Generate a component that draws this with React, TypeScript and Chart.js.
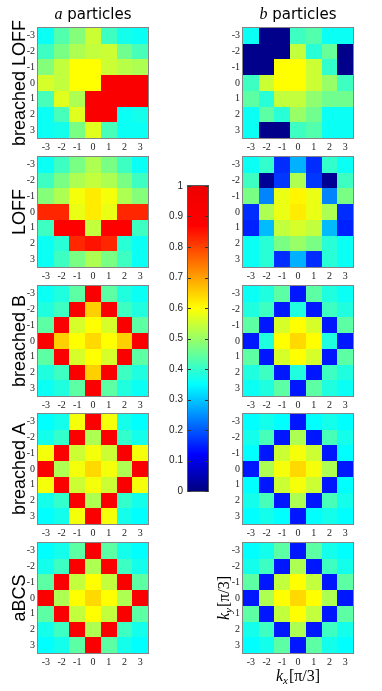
import React, { useEffect, useRef } from 'react';
import { Chart, registerables } from 'chart.js';
Chart.register(...registerables);

// ---- data ----
const KX = [-3, -2, -1, 0, 1, 2, 3];
const KY = [-3, -2, -1, 0, 1, 2, 3];
const COLORBAR_TICKS = [0, 0.1, 0.2, 0.3, 0.4, 0.5, 0.6, 0.7, 0.8, 0.9, 1];
const ROW_LABELS = ['breached LOFF', 'LOFF', 'breached B', 'breached A', 'aBCS'];
const COLUMN_TITLES = ['a', 'b'];

// rows: k_y = -3 (top) ... 3 (bottom); columns: k_x = -3 ... 3
const A_BREACHED_LOFF = [
  [0.36, 0.43, 0.48, 0.55, 0.41, 0.37, 0.36],
  [0.41, 0.47, 0.52, 0.54, 0.55, 0.46, 0.42],
  [0.48, 0.54, 0.60, 0.60, 0.55, 0.53, 0.52],
  [0.56, 0.54, 0.60, 0.60, 0.90, 0.90, 0.90],
  [0.42, 0.57, 0.52, 0.90, 0.90, 0.90, 0.90],
  [0.36, 0.42, 0.57, 0.90, 0.90, 0.36, 0.37],
  [0.36, 0.37, 0.47, 0.57, 0.42, 0.36, 0.36],
];
const B_BREACHED_LOFF = [
  [0.36, 0.01, 0.01, 0.41, 0.43, 0.36, 0.36],
  [0.01, 0.01, 0.01, 0.54, 0.39, 0.45, 0.01],
  [0.01, 0.01, 0.60, 0.60, 0.55, 0.40, 0.01],
  [0.41, 0.55, 0.60, 0.60, 0.55, 0.50, 0.41],
  [0.44, 0.39, 0.54, 0.54, 0.49, 0.46, 0.46],
  [0.36, 0.44, 0.39, 0.50, 0.46, 0.36, 0.36],
  [0.36, 0.01, 0.01, 0.41, 0.43, 0.36, 0.36],
];
const A_LOFF = [
  [0.36, 0.41, 0.47, 0.52, 0.47, 0.41, 0.36],
  [0.41, 0.47, 0.52, 0.54, 0.52, 0.47, 0.41],
  [0.48, 0.52, 0.59, 0.62, 0.59, 0.52, 0.48],
  [0.83, 0.83, 0.58, 0.62, 0.58, 0.83, 0.83],
  [0.41, 0.88, 0.88, 0.54, 0.88, 0.88, 0.41],
  [0.36, 0.39, 0.83, 0.85, 0.83, 0.39, 0.36],
  [0.36, 0.41, 0.47, 0.52, 0.47, 0.41, 0.36],
];
const B_LOFF = [
  [0.36, 0.40, 0.16, 0.28, 0.16, 0.40, 0.36],
  [0.41, 0.02, 0.17, 0.52, 0.17, 0.02, 0.41],
  [0.47, 0.24, 0.58, 0.61, 0.58, 0.24, 0.47],
  [0.16, 0.52, 0.58, 0.62, 0.58, 0.52, 0.16],
  [0.15, 0.29, 0.54, 0.56, 0.54, 0.29, 0.15],
  [0.36, 0.39, 0.47, 0.50, 0.47, 0.39, 0.36],
  [0.36, 0.39, 0.16, 0.28, 0.16, 0.39, 0.36],
];
const A_BREACHED_B = [
  [0.36, 0.38, 0.44, 0.90, 0.44, 0.38, 0.36],
  [0.38, 0.41, 0.90, 0.65, 0.90, 0.41, 0.38],
  [0.44, 0.90, 0.56, 0.60, 0.56, 0.90, 0.44],
  [0.90, 0.65, 0.60, 0.64, 0.60, 0.65, 0.90],
  [0.44, 0.90, 0.56, 0.60, 0.56, 0.90, 0.44],
  [0.38, 0.41, 0.90, 0.65, 0.90, 0.41, 0.38],
  [0.36, 0.38, 0.44, 0.90, 0.44, 0.38, 0.36],
];
const B_BREACHED_B = [
  [0.36, 0.38, 0.44, 0.14, 0.44, 0.38, 0.36],
  [0.38, 0.41, 0.14, 0.38, 0.14, 0.41, 0.38],
  [0.44, 0.14, 0.56, 0.60, 0.56, 0.14, 0.44],
  [0.14, 0.38, 0.60, 0.64, 0.60, 0.38, 0.14],
  [0.44, 0.14, 0.56, 0.60, 0.56, 0.14, 0.44],
  [0.38, 0.41, 0.14, 0.38, 0.14, 0.41, 0.38],
  [0.36, 0.38, 0.44, 0.14, 0.44, 0.38, 0.36],
];
const A_BREACHED_A = [
  [0.35, 0.37, 0.59, 0.90, 0.59, 0.37, 0.35],
  [0.37, 0.40, 0.90, 0.52, 0.90, 0.40, 0.37],
  [0.59, 0.90, 0.55, 0.59, 0.55, 0.90, 0.59],
  [0.90, 0.52, 0.59, 0.64, 0.59, 0.52, 0.90],
  [0.59, 0.90, 0.55, 0.59, 0.55, 0.90, 0.59],
  [0.37, 0.40, 0.90, 0.52, 0.90, 0.40, 0.37],
  [0.35, 0.37, 0.59, 0.90, 0.59, 0.37, 0.35],
];
const B_BREACHED_A = [
  [0.35, 0.37, 0.35, 0.14, 0.35, 0.37, 0.35],
  [0.37, 0.42, 0.14, 0.52, 0.14, 0.42, 0.37],
  [0.35, 0.14, 0.55, 0.59, 0.55, 0.14, 0.35],
  [0.14, 0.52, 0.59, 0.64, 0.59, 0.52, 0.14],
  [0.35, 0.14, 0.55, 0.59, 0.55, 0.14, 0.35],
  [0.37, 0.42, 0.14, 0.52, 0.14, 0.42, 0.37],
  [0.35, 0.37, 0.35, 0.14, 0.35, 0.37, 0.35],
];
const A_ABCS = [
  [0.35, 0.37, 0.44, 0.90, 0.44, 0.37, 0.35],
  [0.37, 0.41, 0.90, 0.52, 0.90, 0.41, 0.37],
  [0.44, 0.90, 0.54, 0.60, 0.54, 0.90, 0.44],
  [0.90, 0.52, 0.60, 0.64, 0.60, 0.52, 0.90],
  [0.44, 0.90, 0.54, 0.60, 0.54, 0.90, 0.44],
  [0.37, 0.41, 0.90, 0.52, 0.90, 0.41, 0.37],
  [0.35, 0.37, 0.44, 0.90, 0.44, 0.37, 0.35],
];
const B_ABCS = [
  [0.35, 0.37, 0.44, 0.14, 0.44, 0.37, 0.35],
  [0.37, 0.41, 0.14, 0.52, 0.14, 0.41, 0.37],
  [0.44, 0.14, 0.54, 0.60, 0.54, 0.14, 0.44],
  [0.14, 0.52, 0.60, 0.64, 0.60, 0.52, 0.14],
  [0.44, 0.14, 0.54, 0.60, 0.54, 0.14, 0.44],
  [0.37, 0.41, 0.14, 0.52, 0.14, 0.41, 0.37],
  [0.35, 0.37, 0.44, 0.14, 0.44, 0.37, 0.35],
];

const A_PANELS = [A_BREACHED_LOFF, A_LOFF, A_BREACHED_B, A_BREACHED_A, A_ABCS];
const B_PANELS = [B_BREACHED_LOFF, B_LOFF, B_BREACHED_B, B_BREACHED_A, B_ABCS];

// ---- colormap (style) ----
const CMAP: [number, number[]][] = [
  [0.0, [0, 0, 128]],
  [0.12, [0, 0, 255]],
  [0.35, [0, 255, 255]],
  [0.6, [255, 255, 0]],
  [0.87, [255, 0, 0]],
  [1.0, [238, 0, 0]],
];
function cmap(v: number): string {
  const t = Math.max(0, Math.min(1, v));
  for (let i = 0; i < CMAP.length - 1; i++) {
    const [a, ca] = CMAP[i];
    const [b, cb] = CMAP[i + 1];
    if (t <= b) {
      const f = (t - a) / (b - a);
      const c = ca.map((x, k) => Math.round(x + (cb[k] - x) * f));
      return `rgb(${c[0]},${c[1]},${c[2]})`;
    }
  }
  const c = CMAP[CMAP.length - 1][1];
  return `rgb(${c[0]},${c[1]},${c[2]})`;
}

// ---- layout (style) ----
const PANEL_TOPS = [28, 157, 286, 414, 543];
const PANEL = 110;
const PAD_TOP = 28;
const X_AXIS_H = 42;
const TICK_FONT = { family: '"Liberation Serif", serif', size: 10 };
const TICK_COLOR = '#222';

const heatPlugin = {
  id: 'heatCells',
  beforeDatasetsDraw(chart: any) {
    const { ctx, scales, chartArea: a } = chart;
    const xs = scales.x, ys = scales.y;
    ctx.save();
    for (const p of chart.data.datasets[0].data) {
      const x0 = Math.round(xs.getPixelForValue(p.x - 0.5));
      const x1 = Math.round(xs.getPixelForValue(p.x + 0.5));
      const y0 = Math.round(ys.getPixelForValue(p.y - 0.5));
      const y1 = Math.round(ys.getPixelForValue(p.y + 0.5));
      ctx.fillStyle = cmap(p.v);
      ctx.fillRect(Math.min(x0, x1), Math.min(y0, y1), Math.abs(x1 - x0), Math.abs(y1 - y0));
    }
    ctx.strokeStyle = 'rgba(120,120,120,0.9)';
    ctx.lineWidth = 1;
    ctx.strokeRect(Math.round(a.left) - 0.5, Math.round(a.top) - 0.5, Math.round(a.right - a.left) + 1, Math.round(a.bottom - a.top) + 1);
    ctx.restore();
  },
};

type PanelProps = {
  values: number[][];
  left: number;
  yW: number;
  top: number;
  rowLabel?: string;
  title?: string;
  kLabels?: boolean;
};

function drawK(ctx: CanvasRenderingContext2D, sub: string) {
  const big = '16px "Liberation Serif", serif';
  const bigI = 'italic 16px "Liberation Serif", serif';
  const small = 'italic 11px "Liberation Serif", serif';
  ctx.font = bigI; const wk = ctx.measureText('k').width;
  ctx.font = small; const ws = ctx.measureText(sub).width;
  ctx.font = big; const wr = ctx.measureText('[π/3]').width;
  let x = -(wk + ws + wr + 1) / 2;
  ctx.textAlign = 'left';
  ctx.textBaseline = 'alphabetic';
  ctx.font = bigI; ctx.fillText('k', x, 0); x += wk;
  ctx.font = small; ctx.fillText(sub, x, 3); x += ws + 1;
  ctx.font = big; ctx.fillText('[π/3]', x, 0);
}

function HeatPanel({ values, left, yW, top, rowLabel, title, kLabels }: PanelProps) {
  const ref = useRef<HTMLCanvasElement>(null);
  const W = yW + PANEL + 12;
  const H = PAD_TOP + PANEL + X_AXIS_H;
  useEffect(() => {
    const points: { x: number; y: number; v: number }[] = [];
    KY.forEach((ky, r) => KX.forEach((kx, c) => points.push({ x: kx, y: ky, v: values[r][c] })));
    const textPlugin = {
      id: 'panelText',
      afterDraw(chart: any) {
        const { ctx, chartArea: a } = chart;
        ctx.save();
        ctx.fillStyle = '#000';
        const cy = (a.top + a.bottom) / 2;
        const cx = (a.left + a.right) / 2;
        if (rowLabel) {
          ctx.save();
          ctx.translate(a.left - 13, cy);
          ctx.rotate(-Math.PI / 2);
          ctx.font = '18px "Liberation Sans", Arial, sans-serif';
          ctx.textAlign = 'center';
          ctx.textBaseline = 'alphabetic';
          ctx.fillText(rowLabel, 0, 0);
          ctx.restore();
        }
        if (title) {
          const fI = 'italic 16px "Liberation Serif", serif';
          const fR = '15px "DejaVu Sans", sans-serif';
          ctx.font = fI; const w1 = ctx.measureText(title).width;
          ctx.font = fR; const w2 = ctx.measureText(' particles').width;
          let x = cx - (w1 + w2) / 2;
          const y = a.top - 9;
          ctx.textAlign = 'left';
          ctx.textBaseline = 'alphabetic';
          ctx.font = fI; ctx.fillText(title, x, y); x += w1;
          ctx.font = fR; ctx.fillText(' particles', x, y);
        }
        if (kLabels) {
          ctx.save();
          ctx.translate(cx, a.bottom + 28);
          drawK(ctx, 'x');
          ctx.restore();
          ctx.save();
          ctx.translate(a.left - 14, cy);
          ctx.rotate(-Math.PI / 2);
          drawK(ctx, 'y');
          ctx.restore();
        }
        ctx.restore();
      },
    };
    const chart = new Chart(ref.current as HTMLCanvasElement, {
      type: 'scatter',
      data: { datasets: [{ data: points as any, pointRadius: 0, pointHoverRadius: 0 }] },
      options: {
        animation: false,
        responsive: false,
        devicePixelRatio: 1,
        events: [],
        layout: { padding: { top: PAD_TOP, right: W - yW - PANEL, left: 0, bottom: 0 } },
        plugins: { legend: { display: false }, tooltip: { enabled: false } },
        scales: {
          x: {
            type: 'linear',
            position: 'bottom',
            min: -3.5,
            max: 3.5,
            afterBuildTicks: (s: any) => { s.ticks = KX.map((v) => ({ value: v })); },
            afterFit: (s: any) => { s.height = X_AXIS_H; },
            ticks: { autoSkip: false, maxRotation: 0, padding: 3, font: TICK_FONT, color: TICK_COLOR, callback: (v: any) => String(v) },
            grid: { display: false, drawTicks: false, tickLength: 0 },
            border: { display: false },
          },
          y: {
            type: 'linear',
            position: 'left',
            reverse: true,
            min: -3.5,
            max: 3.5,
            afterBuildTicks: (s: any) => { s.ticks = KY.map((v) => ({ value: v })); },
            afterFit: (s: any) => { s.width = yW; },
            ticks: { autoSkip: false, padding: 3, font: TICK_FONT, color: TICK_COLOR, callback: (v: any) => String(v) },
            grid: { display: false, drawTicks: false, tickLength: 0 },
            border: { display: false },
          },
        },
      } as any,
      plugins: [heatPlugin, textPlugin],
    });
    return () => chart.destroy();
  }, []);
  return (
    <canvas
      ref={ref}
      width={W}
      height={H}
      style={{ position: 'absolute', left, top: top - PAD_TOP, width: W, height: H }}
    />
  );
}

function ColorBar() {
  const ref = useRef<HTMLCanvasElement>(null);
  const L = 145, T = 175, W = 70, H = 327, YW = 43, BAR = 20;
  useEffect(() => {
    const barPlugin = {
      id: 'bar',
      beforeDatasetsDraw(chart: any) {
        const { ctx, chartArea: a, scales } = chart;
        const ys = scales.y;
        ctx.save();
        for (let py = Math.round(a.top); py < Math.round(a.bottom); py++) {
          ctx.fillStyle = cmap(ys.getValueForPixel(py + 0.5));
          ctx.fillRect(a.left, py, a.right - a.left, 1);
        }
        ctx.strokeStyle = '#555';
        ctx.lineWidth = 1;
        ctx.strokeRect(Math.round(a.left) - 0.5, Math.round(a.top) - 0.5, Math.round(a.right - a.left) + 1, Math.round(a.bottom - a.top) + 1);
        ctx.strokeStyle = '#333';
        for (const t of COLORBAR_TICKS) {
          const y = Math.round(ys.getPixelForValue(t)) + 0.5;
          ctx.beginPath();
          ctx.moveTo(a.left, y); ctx.lineTo(a.left + 3, y);
          ctx.moveTo(a.right, y); ctx.lineTo(a.right - 3, y);
          ctx.stroke();
        }
        ctx.restore();
      },
    };
    const chart = new Chart(ref.current as HTMLCanvasElement, {
      type: 'scatter',
      data: { datasets: [{ data: [], pointRadius: 0 }] },
      options: {
        animation: false,
        responsive: false,
        devicePixelRatio: 1,
        events: [],
        layout: { padding: { top: 10, bottom: 10, left: 0, right: W - YW - BAR } },
        plugins: { legend: { display: false }, tooltip: { enabled: false } },
        scales: {
          x: { type: 'linear', display: false, min: 0, max: 1 },
          y: {
            type: 'linear',
            position: 'left',
            min: 0,
            max: 1,
            afterBuildTicks: (s: any) => { s.ticks = COLORBAR_TICKS.map((v) => ({ value: v })); },
            afterFit: (s: any) => { s.width = YW; },
            ticks: {
              autoSkip: false,
              padding: 5,
              font: { family: '"Liberation Sans", Arial, sans-serif', size: 10 },
              color: '#222',
              callback: (v: any) => String(Math.round(v * 10) / 10),
            },
            grid: { display: false, drawTicks: false, tickLength: 0 },
            border: { display: false },
          },
        },
      } as any,
      plugins: [barPlugin],
    });
    return () => chart.destroy();
  }, []);
  return <canvas ref={ref} width={W} height={H} style={{ position: 'absolute', left: L, top: T, width: W, height: H }} />;
}

export default function App() {
  return (
    <div style={{ position: 'absolute', left: 0, top: 0, width: 382, height: 691, background: '#fff', overflow: 'hidden' }}>
      {A_PANELS.map((vals, i) => (
        <HeatPanel
          key={'a' + i}
          values={vals}
          left={0}
          yW={38}
          top={PANEL_TOPS[i]}
          rowLabel={ROW_LABELS[i]}
          title={i === 0 ? COLUMN_TITLES[0] : undefined}
        />
      ))}
      {B_PANELS.map((vals, i) => (
        <HeatPanel
          key={'b' + i}
          values={vals}
          left={203}
          yW={40}
          top={PANEL_TOPS[i]}
          title={i === 0 ? COLUMN_TITLES[1] : undefined}
          kLabels={i === B_PANELS.length - 1}
        />
      ))}
      <ColorBar />
    </div>
  );
}
